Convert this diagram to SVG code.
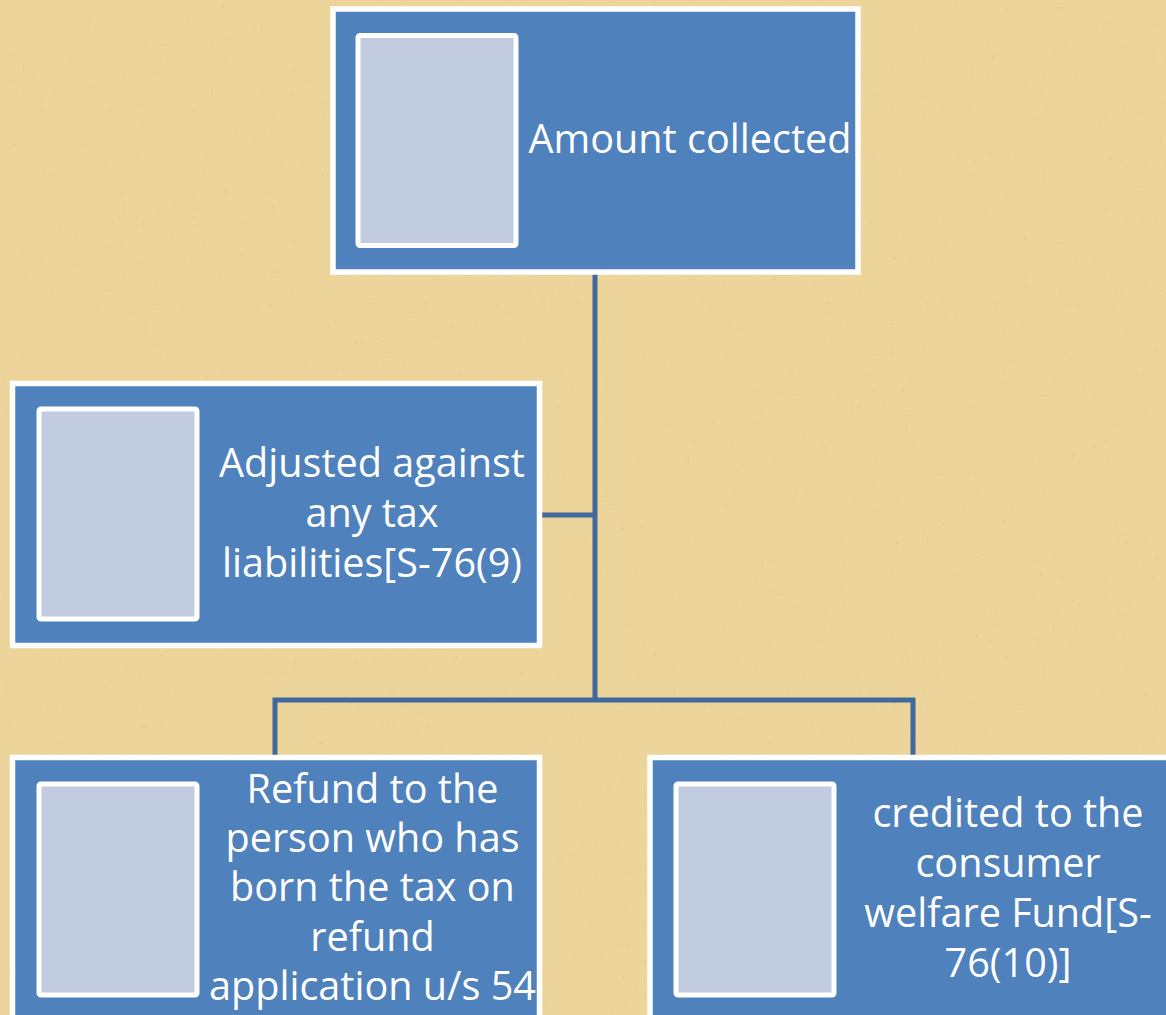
<svg xmlns="http://www.w3.org/2000/svg" width="1166" height="1015" viewBox="0 0 1166 1015">
<defs>
<style>
.node{fill:#4F81BD;stroke:#FFFFFF;stroke-width:5.5}
.inner{fill:#C1CCE1;stroke:#FFFFFF;stroke-width:5}
.lbl{font-family:"Open Sans","Liberation Sans",sans-serif;font-size:39.6px;fill:#FFFFFF;text-anchor:middle}
.conn{fill:none;stroke:#41699D;stroke-width:5}
</style>
<filter id="tex" x="0" y="0" width="100%" height="100%">
<feTurbulence type="fractalNoise" baseFrequency="0.9 0.06" numOctaves="3" seed="4" result="n1"/>
<feTurbulence type="fractalNoise" baseFrequency="0.06 0.9" numOctaves="3" seed="9" result="n2"/>
<feBlend in="n1" in2="n2" mode="multiply" result="n"/>
<feColorMatrix in="n" type="matrix" values="0 0 0 0 0.55  0 0 0 0 0.42  0 0 0 0 0.15  0 0 0 -1.4 0.85"/>
</filter>
</defs>
<rect x="0" y="0" width="1166" height="1015" fill="#EDD49A"/>
<rect x="0" y="0" width="1166" height="1015" filter="url(#tex)" opacity="0.7"/>
<g id="connectors">
<path class="conn" d="M595 274 V700"/>
<path class="conn" d="M542 515 H595"/>
<path class="conn" d="M275 757 V700 H913 V757"/>
</g>
<g id="node-amount">
<rect class="node" x="333" y="9" width="525" height="263"/>
<rect class="inner" x="358" y="35.5" width="158" height="210" rx="2"/>
<text class="lbl" x="690" y="153">Amount collected</text>
</g>
<g id="node-adjusted">
<rect class="node" x="12.5" y="383.5" width="527" height="262"/>
<rect class="inner" x="39" y="409" width="158" height="210" rx="2"/>
<text class="lbl" x="372" y="477">Adjusted against</text>
<text class="lbl" x="372" y="527">any tax</text>
<text class="lbl" x="372" y="577">liabilities[S-76(9)</text>
</g>
<g id="node-refund">
<rect class="node" x="12.5" y="757.5" width="527" height="262"/>
<rect class="inner" x="39" y="784" width="158" height="211" rx="2"/>
<text class="lbl" x="372.5" y="803">Refund to the</text>
<text class="lbl" x="372.5" y="852">person who has</text>
<text class="lbl" x="372.5" y="901">born the tax on</text>
<text class="lbl" x="372.5" y="951">refund</text>
<text class="lbl" x="372.5" y="1000">application u/s 54</text>
</g>
<g id="node-credited">
<rect class="node" x="650" y="757.5" width="527" height="262"/>
<rect class="inner" x="676" y="784" width="158" height="211" rx="2"/>
<text class="lbl" x="1008" y="827">credited to the</text>
<text class="lbl" x="1008" y="877">consumer</text>
<text class="lbl" x="1008" y="927">welfare Fund[S-</text>
<text class="lbl" x="1008" y="977">76(10)]</text>
</g>
</svg>
